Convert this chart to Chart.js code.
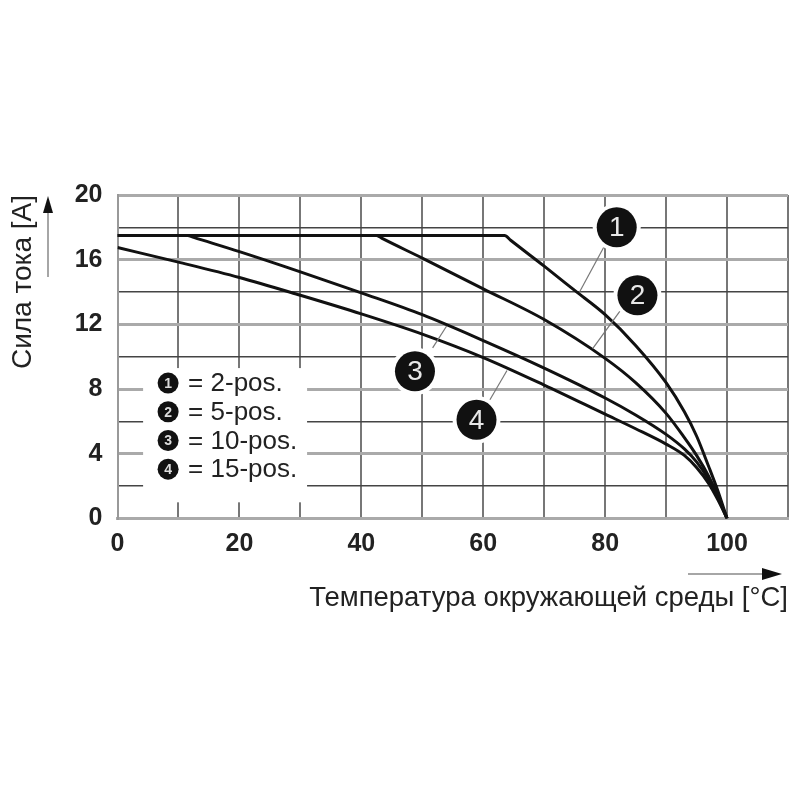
<!DOCTYPE html>
<html><head><meta charset="utf-8">
<script src="https://cdn.jsdelivr.net/npm/chart.js@4.4.1/dist/chart.umd.min.js"></script>
<style>html,body{margin:0;padding:0;background:#fff}</style>
</head><body>
<canvas id="c" width="800" height="800" style="width:800px;height:800px;display:block"></canvas>
<script>
// ---- data ----
const seriesNumbers = ['1', '2', '3', '4'];
const seriesNames = ['2-pos.', '5-pos.', '10-pos.', '15-pos.'];

const temp1    = [0, 63.5, 64.5, 70, 75, 80, 85, 90, 93, 95, 97, 98.5, 100];
const current1 = [17.5, 17.5, 17.2, 15.6, 14.1, 12.6, 10.7, 8.4, 6.6, 5.1, 3.2, 1.7, 0];

const temp2    = [0, 42.5, 43.5, 50, 60, 70, 80, 85, 90, 93, 95, 97, 98.5, 100];
const current2 = [17.5, 17.5, 17.3, 16.1, 14.2, 12.3, 9.9, 8.4, 6.5, 5.0, 3.9, 2.6, 1.4, 0];

const temp3    = [0, 11.5, 12.5, 20, 30, 40, 50, 60, 70, 80, 85, 90, 93, 95, 97, 98.5, 100];
const current3 = [17.5, 17.5, 17.38, 16.5, 15.25, 13.95, 12.6, 11.0, 9.3, 7.45, 6.4, 5.2, 4.3, 3.5, 2.4, 1.3, 0];

const temp4    = [0, 10, 20, 30, 40, 50, 60, 70, 80, 85, 90, 93, 95, 97, 98.5, 100];
const current4 = [16.75, 15.85, 14.9, 13.8, 12.65, 11.4, 9.95, 8.25, 6.45, 5.55, 4.6, 3.9, 3.15, 2.15, 1.15, 0];

const xTickLabels = [0, 20, 40, 60, 80, 100];
const yTickLabels = [0, 4, 8, 12, 16, 20];
const xAxisTitle = 'Температура окружающей среды [°C]';
const yAxisTitle = 'Сила тока [A]';

// ---- chart ----
const FONT = '"Liberation Sans", Arial, Helvetica, sans-serif';
const temps = [temp1, temp2, temp3, temp4];
const currents = [current1, current2, current3, current4];

const datasets = seriesNames.map((name, i) => ({
  label: name,
  data: temps[i].map((t, k) => ({x: t, y: currents[i][k]})),
  borderColor: '#111',
  borderWidth: 3,
  pointRadius: 0,
  cubicInterpolationMode: 'monotone',
  fill: false
}));

// callout circles (data coords) and leader lines
const callouts = [
  {n: 0, cx: 81.9, cy: 18.0, a: [79.75, 16.75], b: [75.8, 14.0]},
  {n: 1, cx: 85.3, cy: 13.8, a: [82.4, 12.8],  b: [77.95, 10.5]},
  {n: 2, cx: 48.8, cy: 9.1,  a: [51.7, 10.55], b: [54.0, 11.9]},
  {n: 3, cx: 58.9, cy: 6.1,  a: [61.1, 7.34],  b: [63.9, 9.15]}
];
const legendBox = {x0: 4.2, x1: 31.1, y0: 9.3, y1: 1.0};

const decor = {
  id: 'decor',
  beforeDatasetsDraw(chart) {
    const {ctx, scales: {x, y}} = chart;
    ctx.save();
    ctx.fillStyle = '#fff';
    const L = x.getPixelForValue(legendBox.x0), R = x.getPixelForValue(legendBox.x1);
    const T = y.getPixelForValue(legendBox.y0), B = y.getPixelForValue(legendBox.y1);
    ctx.fillRect(L, T, R - L, B - T);
    callouts.forEach(c => {
      ctx.beginPath();
      ctx.arc(x.getPixelForValue(c.cx), y.getPixelForValue(c.cy), 24, 0, Math.PI * 2);
      ctx.fill();
    });
    ctx.restore();
  },
  afterDatasetsDraw(chart) {
    const {ctx, scales: {x, y}} = chart;
    ctx.save();
    // leader lines
    ctx.strokeStyle = '#777';
    ctx.lineWidth = 1.2;
    callouts.forEach(c => {
      ctx.beginPath();
      ctx.moveTo(x.getPixelForValue(c.a[0]), y.getPixelForValue(c.a[1]));
      ctx.lineTo(x.getPixelForValue(c.b[0]), y.getPixelForValue(c.b[1]));
      ctx.stroke();
    });
    // callout circles
    callouts.forEach(c => {
      const px = x.getPixelForValue(c.cx), py = y.getPixelForValue(c.cy);
      ctx.fillStyle = '#111';
      ctx.beginPath();
      ctx.arc(px, py, 20, 0, Math.PI * 2);
      ctx.fill();
      ctx.fillStyle = '#e8e8e8';
      ctx.font = '28px ' + FONT;
      ctx.textAlign = 'center';
      ctx.textBaseline = 'middle';
      ctx.fillText(seriesNumbers[c.n], px, py + 1);
    });
    // legend entries
    const L = x.getPixelForValue(legendBox.x0);
    const T = y.getPixelForValue(legendBox.y0);
    seriesNames.forEach((name, i) => {
      const ry = T + 15 + i * 28.7;
      ctx.fillStyle = '#111';
      ctx.beginPath();
      ctx.arc(L + 25, ry, 10.5, 0, Math.PI * 2);
      ctx.fill();
      ctx.fillStyle = '#ddd';
      ctx.font = 'bold 14px ' + FONT;
      ctx.textAlign = 'center';
      ctx.textBaseline = 'middle';
      ctx.fillText(seriesNumbers[i], L + 25, ry + 1);
      ctx.fillStyle = '#222';
      ctx.font = '26px ' + FONT;
      ctx.textAlign = 'left';
      ctx.fillText('= ' + name, L + 45, ry + 1);
    });
    ctx.restore();
  },
  afterDraw(chart) {
    const {ctx, chartArea} = chart;
    ctx.save();
    // y title arrow
    const ax = 48, top = chartArea.top;
    ctx.strokeStyle = '#888';
    ctx.lineWidth = 1.5;
    ctx.beginPath(); ctx.moveTo(ax, top + 82); ctx.lineTo(ax, top + 14); ctx.stroke();
    ctx.fillStyle = '#111';
    ctx.beginPath(); ctx.moveTo(ax, top + 1); ctx.lineTo(ax - 5, top + 18); ctx.lineTo(ax + 5, top + 18); ctx.closePath(); ctx.fill();
    // x title arrow
    const ay = 574, right = chartArea.right - 6;
    ctx.beginPath(); ctx.moveTo(right - 94, ay); ctx.lineTo(right - 16, ay); ctx.stroke();
    ctx.beginPath(); ctx.moveTo(right, ay); ctx.lineTo(right - 20, ay - 6); ctx.lineTo(right - 20, ay + 6); ctx.closePath(); ctx.fill();
    ctx.restore();
  }
};

new Chart(document.getElementById('c'), {
  type: 'line',
  data: {datasets},
  plugins: [decor],
  options: {
    responsive: false,
    animation: false,
    devicePixelRatio: 1,
    layout: {padding: {top: 195, right: 12, left: 0, bottom: 0}},
    plugins: {legend: {display: false}, tooltip: {enabled: false}},
    scales: {
      x: {
        type: 'linear', min: 0, max: 110,
        afterFit(s) { s.height = 281.5; },
        ticks: {
          stepSize: 10,
          padding: 11,
          color: '#222',
          font: {family: FONT, size: 25, weight: 'bold'},
          maxRotation: 0,
          autoSkip: false,
          callback: v => xTickLabels.includes(v) ? String(v) : ''
        },
        grid: {color: '#777', lineWidth: 2, drawTicks: false},
        border: {display: true, color: '#aaa', width: 3},
        title: {
          display: true, text: xAxisTitle, align: 'end', color: '#222',
          font: {family: FONT, size: 27.5, lineHeight: 1.2},
          padding: {top: 0, bottom: 185.5}
        }
      },
      y: {
        type: 'linear', min: 0, max: 20,
        afterFit(s) { s.width = 117.5; },
        ticks: {
          stepSize: 2,
          padding: 15,
          color: '#222',
          font: {family: FONT, size: 25, weight: 'bold'},
          autoSkip: false,
          callback: v => yTickLabels.includes(v) ? String(v) : ''
        },
        grid: {
          drawTicks: false,
          color: c => (c.tick && yTickLabels.includes(c.tick.value)) ? '#aaa' : '#444',
          lineWidth: c => (c.tick && yTickLabels.includes(c.tick.value)) ? 3 : 1.5
        },
        border: {display: true, color: '#999', width: 2},
        title: {
          display: true, text: yAxisTitle, align: 'end', color: '#222',
          font: {family: FONT, size: 28, lineHeight: 1.2},
          padding: {top: 6, bottom: 0}
        }
      }
    }
  }
});
</script>
</body></html>
